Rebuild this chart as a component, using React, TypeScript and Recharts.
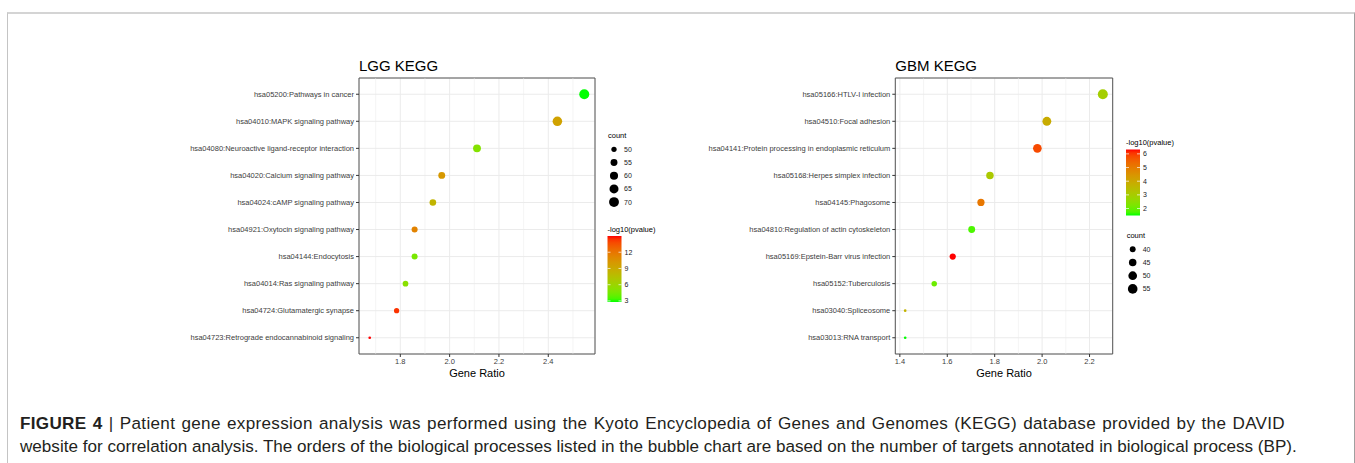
import React from 'react';
import { ScatterChart, Scatter, XAxis, YAxis, CartesianGrid, ReferenceLine, ReferenceArea } from 'recharts';

// LGG panel
const lggTerms = [
  'hsa05200:Pathways in cancer',
  'hsa04010:MAPK signaling pathway',
  'hsa04080:Neuroactive ligand-receptor interaction',
  'hsa04020:Calcium signaling pathway',
  'hsa04024:cAMP signaling pathway',
  'hsa04921:Oxytocin signaling pathway',
  'hsa04144:Endocytosis',
  'hsa04014:Ras signaling pathway',
  'hsa04724:Glutamatergic synapse',
  'hsa04723:Retrograde endocannabinoid signaling',
];
const lggRatio = [2.546, 2.437, 2.111, 1.968, 1.932, 1.858, 1.858, 1.821, 1.785, 1.676];
const lggCount = [71, 68, 59, 55, 54, 52, 52, 51, 50, 47];
const lggLogP = [2.8, 9.5, 5.0, 10.1, 8.3, 11.3, 4.6, 5.2, 14.4, 15.0];
const lggXTicks = [1.8, 2.0, 2.2, 2.4];
const lggXMinor = [1.7, 1.9, 2.1, 2.3, 2.5];
const lggCountBreaks = [50, 55, 60, 65, 70];
const lggColorBreaks = [3, 6, 9, 12];

// GBM panel
const gbmTerms = [
  'hsa05166:HTLV-I infection',
  'hsa04510:Focal adhesion',
  'hsa04141:Protein processing in endoplasmic reticulum',
  'hsa05168:Herpes simplex infection',
  'hsa04145:Phagosome',
  'hsa04810:Regulation of actin cytoskeleton',
  'hsa05169:Epstein-Barr virus infection',
  'hsa05152:Tuberculosis',
  'hsa03040:Spliceosome',
  'hsa03013:RNA transport',
];
const gbmRatio = [2.256, 2.02, 1.98, 1.78, 1.742, 1.703, 1.623, 1.545, 1.4225, 1.4225];
const gbmCount = [57, 51, 50, 45, 44, 43, 41, 39, 36, 36];
const gbmLogP = [2.94, 3.9, 5.84, 3.1, 5.1, 1.75, 6.32, 2.05, 3.7, 1.49];
const gbmXTicks = [1.4, 1.6, 1.8, 2.0, 2.2];
const gbmXMinor = [1.5, 1.7, 1.9, 2.1];
const gbmCountBreaks = [40, 45, 50, 55];
const gbmColorBreaks = [2, 3, 4, 5, 6];

const LOW = '#00FF00';
const HIGH = '#FF0000';
const FONT = '"Liberation Sans", Arial, Helvetica, sans-serif';

// --- colour gradient in Lab space (like ggplot's scale_colour_gradient)
const WX = 0.95047, WY = 1, WZ = 1.08883;
function hexToLab(hex: string) {
  const v = [1, 3, 5].map(i => parseInt(hex.slice(i, i + 2), 16) / 255)
    .map(c => (c <= 0.04045 ? c / 12.92 : Math.pow((c + 0.055) / 1.055, 2.4)));
  const [r, g, b] = v;
  const x = (0.4124564 * r + 0.3575761 * g + 0.1804375 * b) / WX;
  const y = (0.2126729 * r + 0.7151522 * g + 0.072175 * b) / WY;
  const z = (0.0193339 * r + 0.119192 * g + 0.9503041 * b) / WZ;
  const f = (t: number) => (t > 216 / 24389 ? Math.cbrt(t) : (24389 / 27 * t + 16) / 116);
  const fx = f(x), fy = f(y), fz = f(z);
  return [116 * fy - 16, 500 * (fx - fy), 200 * (fy - fz)];
}
function labToHex([L, a, bb]: number[]) {
  const fy = (L + 16) / 116, fx = fy + a / 500, fz = fy - bb / 200;
  const inv = (t: number) => (t * t * t > 216 / 24389 ? t * t * t : (116 * t - 16) / (24389 / 27));
  const x = inv(fx) * WX, y = inv(fy) * WY, z = inv(fz) * WZ;
  const lin = [
    3.2404542 * x - 1.5371385 * y - 0.4985314 * z,
    -0.969266 * x + 1.8760108 * y + 0.041556 * z,
    0.0556434 * x - 0.2040259 * y + 1.0572252 * z,
  ];
  return '#' + lin.map(c => {
    const s = c <= 0.0031308 ? 12.92 * c : 1.055 * Math.pow(c, 1 / 2.4) - 0.055;
    const n = Math.round(Math.min(1, Math.max(0, s)) * 255);
    return n.toString(16).padStart(2, '0');
  }).join('');
}
const labLow = hexToLab(LOW);
const labHigh = hexToLab(HIGH);
const gradient = (t: number) => labToHex(labLow.map((l, i) => l + (labHigh[i] - l) * t));

const makeColor = (vals: number[]) => {
  const lo = Math.min(...vals), hi = Math.max(...vals);
  return (v: number) => gradient((v - lo) / (hi - lo));
};
// ggplot-like area scale for point size, returns radius in px
const makeRadius = (vals: number[]) => {
  const lo = Math.min(...vals), hi = Math.max(...vals);
  return (v: number) => {
    const size = 1 + 5 * Math.sqrt(Math.max(0, (v - lo) / (hi - lo)));
    return (1.24 + 1.46 * size) / 2;
  };
};
const expand = (vals: number[]) => {
  const lo = Math.min(...vals), hi = Math.max(...vals);
  const pad = (hi - lo) * 0.05;
  return [lo - pad, hi + pad];
};

type PanelProps = {
  terms: string[]; ratio: number[]; count: number[]; logp: number[];
  xTicks: number[]; xMinor: number[]; left: number; width: number; yWidth: number; right: number;
};

function Panel({ terms, ratio, count, logp, xTicks, xMinor, left, width, yWidth, right }: PanelProps) {
  const rows = terms.map((term, i) => ({ term, y: i + 1, ratio: ratio[i], count: count[i], logp: logp[i] }));
  const xDomain = expand(ratio);
  const yDomain = [0.4, terms.length + 0.6];
  const color = makeColor(logp);
  const radius = makeRadius(count);
  const termTick = (p: any) => (
    <text x={p.x} y={p.y} textAnchor="end" dominantBaseline="central" fontSize={7.5} fill="#3d3d3d">
      {terms[p.payload.value - 1]}
    </text>
  );
  return (
    <div style={{ position: 'absolute', left, top: 50, fontFamily: FONT }}>
      <ScatterChart width={width} height={340} margin={{ top: 28, right, bottom: 0, left: 0 }}>
        <CartesianGrid stroke="#ebebeb" strokeWidth={1} />
        {xMinor.map(v => (
          <ReferenceLine key={v} x={v} stroke="#ebebeb" strokeWidth={0.5} />
        ))}
        <ReferenceArea x1={xDomain[0]} x2={xDomain[1]} y1={yDomain[0]} y2={yDomain[1]}
          fill="none" stroke="#555" strokeWidth={1} />
        <XAxis type="number" dataKey="ratio" domain={xDomain} ticks={xTicks} interval={0}
          allowDataOverflow tickFormatter={(v: number) => v.toFixed(1)}
          tick={{ fontSize: 7.5, fill: '#3d3d3d' }} tickLine={{ stroke: '#333' }} tickSize={3}
          axisLine={false} height={36}
          label={{ value: 'Gene Ratio', position: 'insideBottom', offset: 13, fontSize: 11, fill: '#000' }} />
        <YAxis type="number" dataKey="y" domain={yDomain} reversed allowDataOverflow
          ticks={terms.map((_, i) => i + 1)} interval={0}
          tick={termTick} tickLine={{ stroke: '#333' }} tickSize={3}
          axisLine={false} width={yWidth} />
        <Scatter data={rows} isAnimationActive={false}
          shape={(p: any) => (
            <circle cx={p.cx} cy={p.cy} r={radius(p.payload.count)} fill={color(p.payload.logp)} />
          )} />
      </ScatterChart>
    </div>
  );
}

function SizeLegend({ x, y, breaks, counts }: { x: number; y: number; breaks: number[]; counts: number[] }) {
  const radius = makeRadius(counts);
  return (
    <g>
      <text x={x} y={y} fontSize={7.5} dominantBaseline="central" fill="#000">count</text>
      {breaks.map((b, i) => (
        <g key={b}>
          <circle cx={x + 6} cy={y + 14.3 + i * 13.2} r={radius(b)} fill="#000" />
          <text x={x + 16} y={y + 14.3 + i * 13.2} fontSize={7} dominantBaseline="central" fill="#1a1a1a">{b}</text>
        </g>
      ))}
    </g>
  );
}

function ColorLegend({ x, y, id, breaks, values }: { x: number; y: number; id: string; breaks: number[]; values: number[] }) {
  const lo = Math.min(...values), hi = Math.max(...values);
  const top = y + 7, h = 66, w = 14;
  const yOf = (v: number) => top + h - ((v - lo) / (hi - lo)) * h;
  const stops = Array.from({ length: 21 }, (_, i) => i / 20);
  return (
    <g>
      <defs>
        <linearGradient id={id} x1="0" y1="1" x2="0" y2="0">
          {stops.map(t => <stop key={t} offset={t} stopColor={gradient(t)} />)}
        </linearGradient>
      </defs>
      <text x={x} y={y} fontSize={7.5} dominantBaseline="central" fill="#000">-log10(pvalue)</text>
      <rect x={x} y={top} width={w} height={h} fill={`url(#${id})`} />
      {breaks.map(b => (
        <g key={b}>
          <line x1={x} x2={x + 3} y1={yOf(b)} y2={yOf(b)} stroke="#fff" strokeWidth={0.7} />
          <line x1={x + w - 3} x2={x + w} y1={yOf(b)} y2={yOf(b)} stroke="#fff" strokeWidth={0.7} />
          <text x={x + w + 3} y={yOf(b)} fontSize={7} dominantBaseline="central" fill="#1a1a1a">{b}</text>
        </g>
      ))}
    </g>
  );
}

export default function App() {
  const captionLine: React.CSSProperties = {
    position: 'absolute', left: 20, fontSize: 17.1, lineHeight: '23px',
    color: '#231f20', fontFamily: FONT, whiteSpace: 'nowrap',
  };
  return (
    <div style={{ position: 'absolute', left: 0, top: 0, width: 1355, height: 463, background: '#fff', overflow: 'hidden', fontFamily: FONT }}>
      <div style={{
        position: 'absolute', left: 7, top: 12, width: 1346, height: 470,
        borderTop: '2px solid #d4d4d4', borderLeft: '1px solid #c4c4c4', borderRight: '1px solid #a0a0a0',
      }} />
      <Panel terms={lggTerms} ratio={lggRatio} count={lggCount} logp={lggLogP}
        xTicks={lggXTicks} xMinor={lggXMinor} left={180} width={420} yWidth={179} right={5} />
      <Panel terms={gbmTerms} ratio={gbmRatio} count={gbmCount} logp={gbmLogP}
        xTicks={gbmXTicks} xMinor={gbmXMinor} left={700} width={420} yWidth={195.3} right={7.3} />
      <svg width={1355} height={463} style={{ position: 'absolute', left: 0, top: 0, pointerEvents: 'none', fontFamily: FONT }}>
        <text x={359} y={65} fontSize={15} dominantBaseline="central" fill="#000">LGG KEGG</text>
        <text x={895.3} y={65} fontSize={15} dominantBaseline="central" fill="#000">GBM KEGG</text>
        <SizeLegend x={608} y={135} breaks={lggCountBreaks} counts={lggCount} />
        <ColorLegend x={607.5} y={229} id="lggGrad" breaks={lggColorBreaks} values={lggLogP} />
        <ColorLegend x={1126} y={142.5} id="gbmGrad" breaks={gbmColorBreaks} values={gbmLogP} />
        <SizeLegend x={1126.7} y={235} breaks={gbmCountBreaks} counts={gbmCount} />
      </svg>
      <div style={{
        ...captionLine, top: 412, width: 1265, letterSpacing: '0.3px',
        textAlign: 'justify', textAlignLast: 'justify', whiteSpace: 'normal',
      }}>
        <b>FIGURE 4</b>&nbsp;|&nbsp;Patient gene expression analysis was performed using the Kyoto Encyclopedia of Genes and Genomes (KEGG) database provided by the DAVID
      </div>
      <div style={{ ...captionLine, top: 435 }}>
        website for correlation analysis. The orders of the biological processes listed in the bubble chart are based on the number of targets annotated in biological process (BP).
      </div>
    </div>
  );
}
